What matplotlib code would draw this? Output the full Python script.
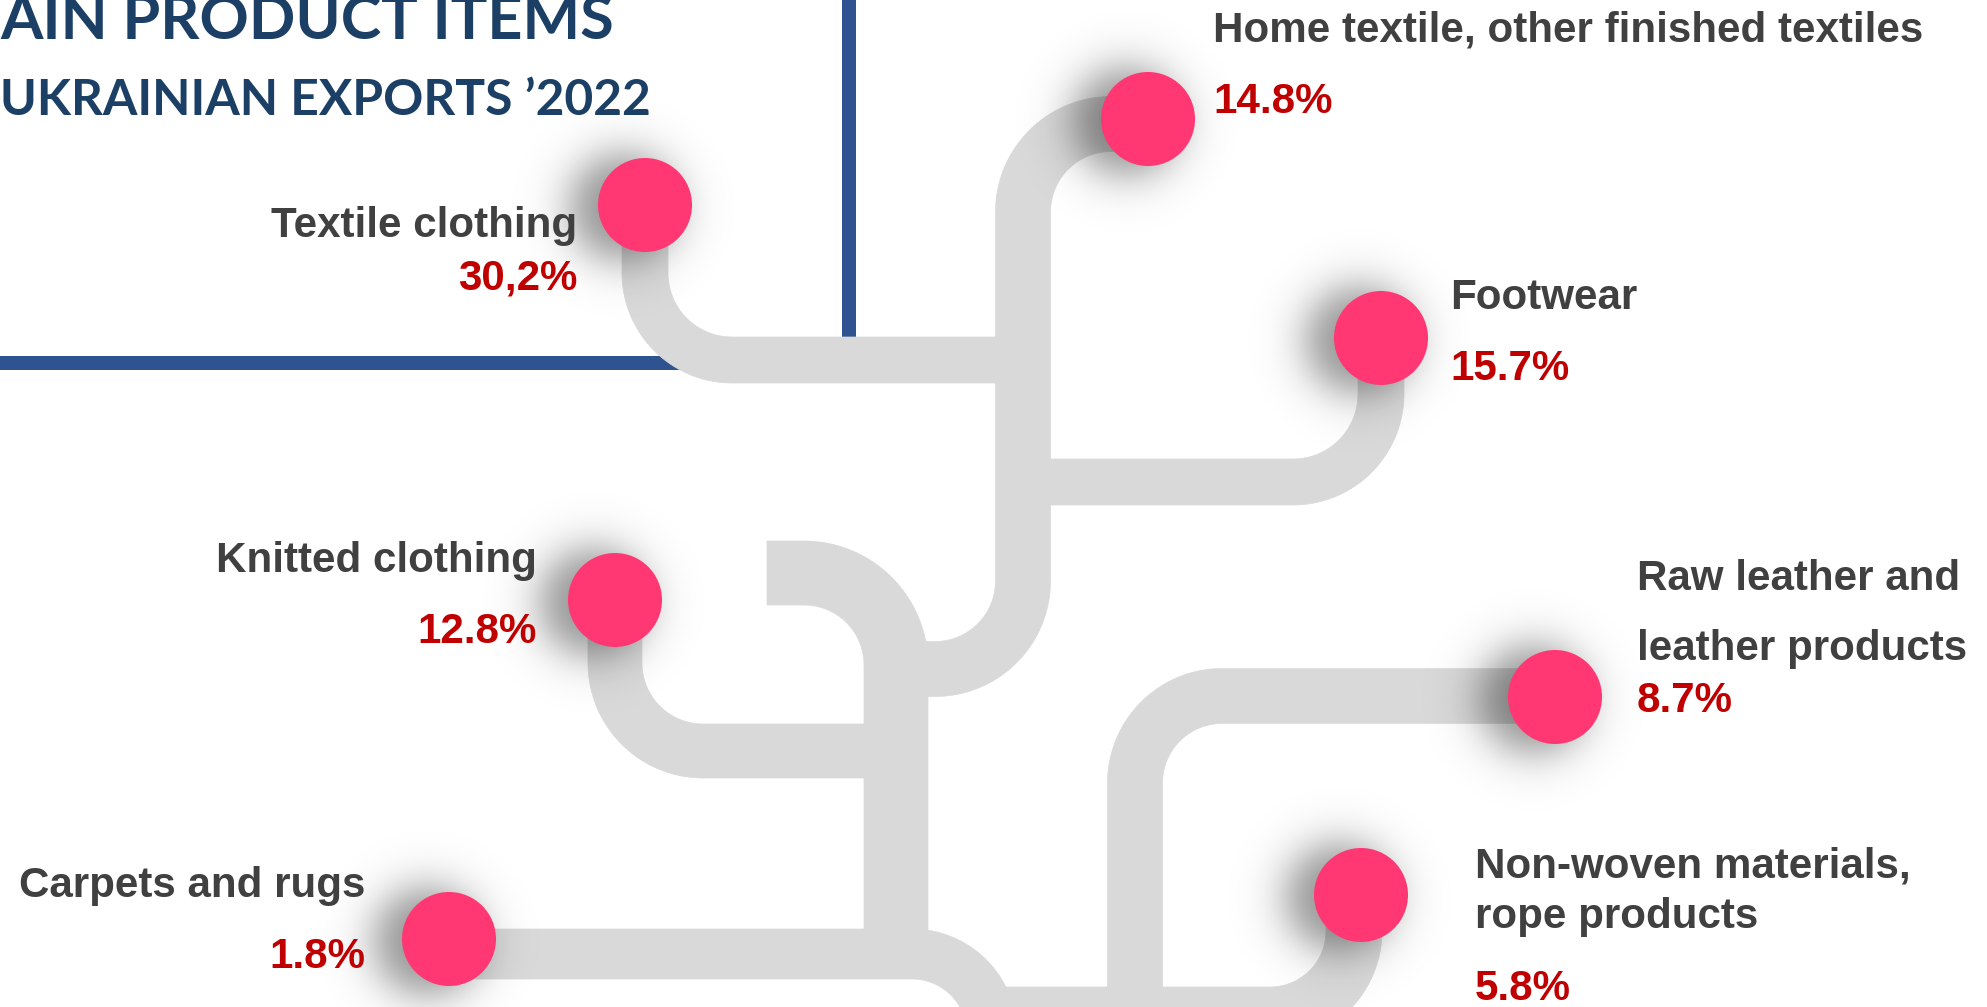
import numpy as np
import matplotlib.pyplot as plt
from matplotlib.patches import Circle, Polygon

W, H = 1987, 1007

# ---- data ----
title_lines = ["AIN PRODUCT ITEMS", "UKRAINIAN EXPORTS \u20192022"]

categories = ["Textile clothing", "Home textile, other finished textiles", "Footwear",
              "Knitted clothing", "Raw leather and leather products", "Carpets and rugs",
              "Non-woven materials, rope products"]
label_lines = [["Textile clothing"], ["Home textile, other finished textiles"], ["Footwear"],
               ["Knitted clothing"], ["Raw leather and", "leather products"],
               ["Carpets and rugs"], ["Non-woven materials,", "rope products"]]
shares = [30.2, 14.8, 15.7, 12.8, 8.7, 1.8, 5.8]
decimal_marks = [",", ".", ".", ".", ".", ".", "."]

# ---- layout (pixels, y grows downwards) ----
dot_xy = [(645, 205), (1148, 119), (1381, 338), (615, 600), (1555, 697), (449, 939), (1361, 895)]
dot_r = 47
text_x = [577, 1213, 1450, 537, 1637, 365, 1475]
text_ha = ["right", "left", "left", "right", "left", "right", "left"]
line_y = [[237], [42], [309], [572], [590, 660], [897], [877, 928]]
pct_y = [290, 113, 380, 643, 712, 968, 1000]

# pipes: list of elbows (start, end, radius, first direction), width in px
pipes = [
    ([((645, 205), (1023, 360), 87, "v")], 46),
    ([((1148, 124), (1023, 420), 88, "h"), ((1023, 420), (896, 669), 88, "v")], 55),
    ([((1381, 338), (1023, 482), 88, "v")], 46),
    ([((767, 573), (896, 954), 92, "h")], 64),
    ([((615, 600), (896, 751), 88, "v")], 54),
    ([((449, 954), (992, 1100), 80, "h")], 50),
    ([((1555, 696), (1135, 1100), 87, "h")], 55),
    ([((1354, 895), (975, 1015), 84, "v")], 56),
]

PIPE = "#D9D9D9"
DOT = "#FF3773"
BLUE = "#2F5290"
NAVY = "#1C3F66"
GREY = "#404040"
RED = "#C00000"
PX = 72 / 100  # points per pixel at dpi 100


def elbow(p0, p1, r, first):
    x0, y0 = p0
    x1, y1 = p1
    sx = np.sign(x1 - x0)
    sy = np.sign(y1 - y0)
    t = np.linspace(0, np.pi / 2, 40)
    if first == "h":
        cx, cy = x1 - sx * r, y0 + sy * r
        ax_ = cx + sx * r * np.sin(t)
        ay_ = cy - sy * r * np.cos(t)
    else:
        cx, cy = x0 + sx * r, y1 - sy * r
        ax_ = cx - sx * r * np.cos(t)
        ay_ = cy + sy * r * np.sin(t)
    return np.r_[x0, ax_, x1], np.r_[y0, ay_, y1]


def outline(xs, ys, w):
    # turn a centre line into a filled band (butt ends)
    P = np.column_stack([xs, ys]).astype(float)
    keep = np.r_[True, np.any(np.diff(P, axis=0) != 0, axis=1)]
    P = P[keep]
    seg = np.diff(P, axis=0)
    seg /= np.hypot(seg[:, 0], seg[:, 1])[:, None]
    nseg = np.column_stack([-seg[:, 1], seg[:, 0]])
    n = np.zeros_like(P)
    n[:-1] += nseg
    n[1:] += nseg
    n /= np.hypot(n[:, 0], n[:, 1])[:, None]
    return np.vstack([P + n * w / 2, (P - n * w / 2)[::-1]])


def shadow(ax, cx, cy, r):
    ext = 160
    xs = np.arange(cx - ext, cx + ext)
    ys = np.arange(cy - ext, cy + ext)
    X, Y = np.meshgrid(xs, ys)
    d = np.hypot(X - (cx - 22), Y - (cy + 2))
    a = 0.42 / (1 + np.exp((d - r - 4) / 13.0))
    img = np.zeros((len(ys), len(xs), 4))
    img[..., 3] = a
    ax.imshow(img, extent=(cx - ext, cx + ext, cy + ext, cy - ext), origin="upper",
              interpolation="bilinear", zorder=3)


fig = plt.figure(figsize=(W / 100, H / 100), dpi=100)
ax = fig.add_axes([0, 0, 1, 1])

# blue frame
ax.plot([849, 849], [0, 360], color=BLUE, lw=14 * PX, solid_capstyle="butt", zorder=1)
ax.plot([0, 700], [363, 363], color=BLUE, lw=14 * PX, solid_capstyle="butt", zorder=1)

# title (its first line is cut by the top edge, as in the original)
ax.text(0, 39, title_lines[0], fontsize=44, fontweight="bold", family="Lato",
        color=NAVY, ha="left", va="baseline", zorder=5)
ax.text(0, 115, title_lines[1], fontsize=35.8, fontweight="bold", family="Lato",
        color=NAVY, ha="left", va="baseline", zorder=5)

# pipes
for elbows, width in pipes:
    xs, ys = [], []
    for p0, p1, r, first in elbows:
        ex, ey = elbow(p0, p1, r, first)
        xs.append(ex)
        ys.append(ey)
    band = outline(np.concatenate(xs), np.concatenate(ys), width)
    ax.add_patch(Polygon(band, closed=True, facecolor=PIPE, edgecolor=PIPE, lw=0.5, zorder=2))

# dots, labels, shares
for i, name in enumerate(categories):
    cx, cy = dot_xy[i]
    shadow(ax, cx, cy, dot_r)
    ax.add_patch(Circle((cx, cy), dot_r, color=DOT, zorder=4, lw=0))
    for line, y in zip(label_lines[i], line_y[i]):
        ax.text(text_x[i], y, line, fontsize=30.3, fontweight="bold", family="Liberation Sans",
                color=GREY, ha=text_ha[i], va="baseline", zorder=5)
    pct = f"{shares[i]:.1f}%".replace(".", decimal_marks[i])
    ax.text(text_x[i], pct_y[i], pct, fontsize=30.3, fontweight="bold", family="Liberation Sans",
            color=RED, ha=text_ha[i], va="baseline", zorder=5)

ax.set_xlim(0, W)
ax.set_ylim(H, 0)
ax.set_aspect("auto")
ax.axis("off")

fig.savefig("out.png", dpi=100, facecolor="white")
